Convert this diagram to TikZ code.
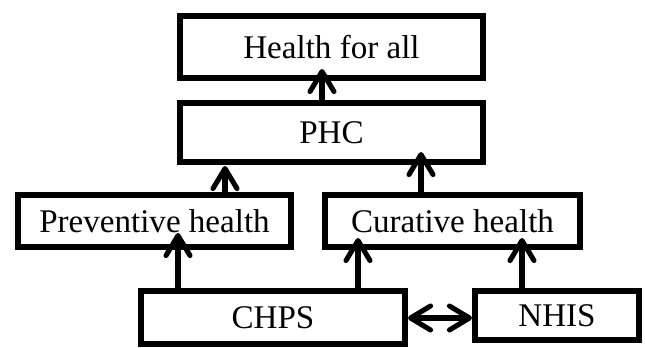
\documentclass[tikz,border=0pt]{standalone}
\usepackage{fontspec}
\setmainfont{Liberation Serif}
\usetikzlibrary{arrows.meta}
\begin{document}
\begin{tikzpicture}[x=0.75pt,y=-0.75pt,
  box/.style={draw=black,line width=4.5pt,fill=white,inner sep=0pt,
    font=\fontsize{24.8}{30}\selectfont},
  tip/.style={Straight Barb[length=15pt,width=18pt,line cap=round,round]},
  arr/.style={line width=3.8pt,line cap=round,-{Straight Barb[length=15pt,width=18pt,line cap=round,round]}},
  darr/.style={line width=3.8pt,line cap=round,
    {Straight Barb[length=15pt,width=18pt,line cap=round,round]}-{Straight Barb[length=15pt,width=18pt,line cap=round,round]}}]
\useasboundingbox (0,0) rectangle (645,347);
\node[box,minimum width=227.25pt,minimum height=46.5pt] (hfa) at (331.5,47) {Health for all};
\node[box,minimum width=227.25pt,minimum height=44.25pt] (phc) at (331.5,132.5) {PHC};
\node[box,minimum width=204.75pt,minimum height=39pt] (prev) at (154.5,221) {Preventive health};
\node[box,minimum width=191.25pt,minimum height=39pt] (cur) at (452.5,221) {Curative health};
\node[box,minimum width=198pt,minimum height=39.75pt] (chps) at (273,317.5) {CHPS};
\node[box,minimum width=123pt,minimum height=36.75pt] (nhis) at (557,315.5) {NHIS};
\coordinate (t1) at (322,69);
\coordinate (t2) at (225,166);
\coordinate (t3) at (421,152);
\coordinate (t4) at (178,233);
\coordinate (t5) at (358,238);
\coordinate (t6) at (522,238);
\coordinate (d) at (0,318);
\draw[arr] (t1 |- phc.north) -- (t1);
\draw[arr] (t2 |- prev.north) -- (t2);
\draw[arr] (t3 |- cur.north) -- (t3);
\draw[arr] (t4 |- chps.north) -- (t4);
\draw[arr] (t5 |- chps.north) -- (t5);
\draw[arr] (t6 |- nhis.north) -- (t6);
\draw[darr] (chps.east |- d) -- (nhis.west |- d);
\end{tikzpicture}
\end{document}
